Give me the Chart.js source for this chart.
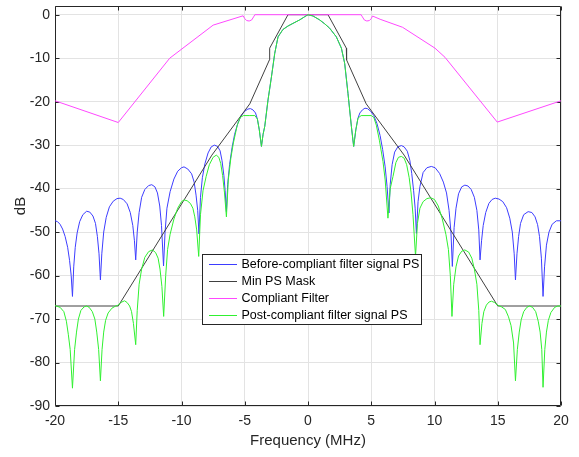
<!DOCTYPE html>
<html><head><meta charset="utf-8">
<script src="https://cdn.jsdelivr.net/npm/chart.js@4.4.1/dist/chart.umd.min.js"></script>
<style>html,body{margin:0;padding:0;background:#fff;}#wrap{width:579px;height:457px;position:relative;}</style>
</head><body><div id="wrap"><canvas id="c" width="579" height="457"></canvas></div>
<script>
const xTickValues = [-20,-15,-10,-5,0,5,10,15,20];
const yTickValues = [-90,-80,-70,-60,-50,-40,-30,-20,-10,0];
const seriesNames = ['Before-compliant filter signal PS','Min PS Mask','Compliant Filter','Post-compliant filter signal PS'];
const xTitle = 'Frequency (MHz)';
const yTitle = 'dB';

const blueFreq = [-20,-19.8,-19.6,-19.4,-19.2,-19.0,-18.85,-18.72,-18.62,-18.52,-18.4,-18.25,-18.05,-17.8,-17.5,-17.25,-17.0,-16.8,-16.65,-16.52,-16.41,
-16.3,-16.15,-15.95,-15.7,-15.4,-15.1,-14.85,-14.6,-14.3,-14.05,-13.85,-13.72,-13.62,
-13.5,-13.35,-13.15,-12.9,-12.6,-12.35,-12.1,-11.9,-11.72,-11.58,-11.42,
-11.3,-11.15,-10.9,-10.6,-10.3,-10.0,-9.8,-9.5,-9.2,-9.0,-8.85,-8.72,-8.62,
-8.5,-8.35,-8.15,-7.9,-7.65,-7.4,-7.15,-6.95,-6.8,-6.65,-6.55,-6.45,
-6.35,-6.2,-6.0,-5.8,-5.55,-5.3,-5.0,-4.75,-4.55,-4.35,-4.15,-4.0,
-3.85,-3.68,-3.55,-3.42,-3.16,-2.89,-2.63,-2.37,-1.98,-1.58,-1.19,-0.66,-0.26,0,0.4,0.92,1.32,1.71,2.24,2.64,2.9,3.16,3.43,3.61,3.78,
3.95,4.1,4.3,4.5,4.7,4.95,5.2,5.45,5.7,5.9,6.1,6.25,6.4,
6.5,6.65,6.85,7.1,7.38,7.6,7.85,8.05,8.2,8.35,8.47,8.57,
8.7,8.85,9.1,9.4,9.75,10.05,10.4,10.7,10.95,11.15,11.3,11.41,
11.55,11.7,11.9,12.15,12.4,12.65,12.9,13.15,13.35,13.5,13.6,
13.72,13.85,14.05,14.3,14.55,14.8,15.1,15.4,15.7,15.95,16.15,16.3,16.4,
16.52,16.65,16.8,17.05,17.4,17.7,17.95,18.15,18.3,18.45,18.58,
18.7,18.85,19.05,19.3,19.64,20];
const blueDb = [-47.4,-47.6,-48.2,-49.3,-51,-53.5,-56.5,-60,-64.8,-58,-53.5,-50.2,-47.6,-46,-45.2,-45.4,-46.3,-48,-51,-55,-61,
-55,-50,-46.6,-44.2,-42.9,-42.3,-42.2,-42.5,-43.5,-45.5,-48.5,-52,-56.4,
-50,-45.5,-42,-40.2,-39.3,-39.1,-39.6,-41,-44,-48.5,-57.8,
-50,-44.5,-40.7,-37.8,-36,-35.2,-35,-35.5,-36.6,-38.5,-41.5,-45,-50.4,
-42,-37.5,-34.3,-31.8,-30.4,-30,-30.3,-31.3,-33.5,-37,-40.5,-45.3,
-39,-34.5,-30.5,-27.5,-25,-23.3,-22.2,-21.7,-21.6,-21.9,-22.6,-24,
-26.5,-30.3,-27.5,-25.7,-19.6,-14.3,-8.9,-5.1,-3.4,-2.6,-2.0,-1.2,-0.46,0,-0.3,-1.2,-2.1,-3.1,-5.1,-7.7,-11.2,-18.1,-25.7,-30.3,-26.5,
-23.8,-22.6,-21.9,-21.5,-21.6,-22.2,-23.2,-25,-27.8,-31,-35,-39.5,-45.6,
-39,-34.5,-31.6,-30.4,-30.1,-30.4,-31.4,-33.5,-36.5,-40.5,-44.5,-50.3,
-43,-39.5,-36.3,-35.2,-34.9,-35.2,-36.5,-38.5,-41,-45,-50,-57.9,
-49,-44.5,-41.2,-39.6,-39.2,-39.4,-40.2,-42,-45,-49.5,-56.4,
-52,-48.5,-45.5,-43.4,-42.5,-42.2,-42.4,-43,-44.4,-46.8,-50,-55,-61,
-55,-51,-48,-46,-45.3,-45.5,-46.5,-48.3,-51,-56,-64.8,
-58,-53,-50,-48.2,-47.4,-47.4];

const maskFreq = [-20,-15,-7.6,-4.6,-3.05,-3.03,-1.58,1.58,3.03,3.05,4.6,7.6,15,20];
const maskDb   = [-67,-67,-32.3,-20.5,-10.4,-7.7,0,0,-7.7,-10.4,-20.5,-32.3,-67,-67];

const filterFreq = [-20,-15,-10.93,-7.5,-5.13,-5.0,-4.85,-4.65,-4.45,-4.3,-4.2,4.2,4.3,4.45,4.65,4.85,5.0,5.1,5.7,7.48,10.04,10.83,14.96,20];
const filterDb   = [-19.8,-24.8,-10,-2.4,-0.25,-0.9,-1.35,-1.45,-1.2,-0.5,0,0,-0.5,-1.2,-1.45,-1.35,-0.9,-0.3,-1.05,-2.9,-7.7,-9.8,-24.7,-19.8];

const greenFreq = [-20,-19.6,-19.3,-19.1,-18.95,-18.8,-18.62,-18.45,-18.3,-18.15,-17.95,-17.7,-17.5,-17.3,-17.05,-16.85,-16.7,-16.55,-16.41,
-16.28,-16.15,-16.0,-15.8,-15.5,-15.2,-15.0,-14.8,-14.5,-14.3,-14.1,-13.95,-13.8,-13.62,
-13.5,-13.35,-13.15,-12.9,-12.6,-12.3,-12.05,-11.85,-11.7,-11.55,-11.41,
-11.25,-11.1,-10.9,-10.6,-10.3,-10.0,-9.8,-9.55,-9.3,-9.1,-8.95,-8.8,-8.64,
-8.5,-8.3,-8.05,-7.8,-7.5,-7.25,-7.05,-6.9,-6.75,-6.6,-6.45,
-6.3,-6.1,-5.9,-5.6,-5.35,-5.1,-4.6,-4.2,-4.0,-3.85,-3.68,
-3.55,-3.42,-3.16,-2.89,-2.63,-2.37,-1.98,-1.58,-1.19,-0.66,-0.26,0,0.4,0.92,1.32,1.71,2.24,2.64,2.9,3.16,3.43,3.61,
3.78,3.95,4.2,5.0,5.2,5.4,5.65,5.93,6.1,6.32,
6.5,6.72,6.95,7.15,7.38,7.6,7.8,8.0,8.15,8.3,8.5,
8.65,8.85,9.1,9.4,9.7,10.0,10.3,10.6,10.9,11.1,11.25,11.38,
11.52,11.7,11.9,12.15,12.4,12.7,12.95,13.15,13.35,13.5,13.6,
13.75,13.9,14.1,14.3,14.5,14.75,15.0,15.3,15.6,15.85,16.05,16.25,16.4,
16.55,16.7,16.85,17.05,17.3,17.52,17.75,18.0,18.2,18.35,18.48,18.58,
18.72,18.85,19.0,19.2,19.5,19.75,20];
const greenDb = [-66.9,-67.3,-68.3,-70.5,-73.5,-77,-85.9,-77,-73,-70,-68,-67.2,-67,-67.3,-68.3,-70,-73,-77,-84.2,
-77,-73,-70.3,-68.6,-67.5,-67,-66.8,-66.2,-65.8,-66.2,-67,-68.3,-71,-75.9,
-68,-62,-58.5,-55.8,-54.5,-54.1,-54.7,-56,-58.5,-62.5,-69.4,
-60,-54,-50.5,-47,-44.5,-43,-42.6,-42.8,-43.4,-44.5,-46.5,-49.5,-55.6,
-46,-40.5,-37.2,-34.5,-32.8,-32.3,-32.8,-34.2,-37,-41,-46.5,
-38,-33,-29.5,-25.5,-23.6,-23.2,-23.2,-23.2,-24,-26.5,-30.3,
-27.5,-25.7,-19.6,-14.3,-8.9,-5.1,-3.4,-2.6,-2.0,-1.2,-0.46,0,-0.3,-1.2,-2.1,-3.1,-5.1,-7.7,-11.2,-18.1,-25.7,-30.3,
-26.5,-23.8,-23.2,-23.2,-23.6,-25.4,-29,-33.8,-38,-46.8,
-40,-37.2,-34,-32.8,-32.6,-33,-34.5,-37.5,-41,-46,-55.6,
-48,-44.5,-43,-42.3,-42.1,-42.5,-44,-46.8,-50.5,-54,-60,-69.4,
-62,-58,-55.5,-54.4,-54.1,-54.6,-56,-58.5,-62,-68,-75.9,
-71,-68.3,-66.8,-66.1,-65.9,-66.2,-66.8,-67.2,-67.8,-69.5,-71.5,-75.5,-84.2,
-77,-73,-70.2,-68.3,-67.3,-67,-67.3,-68.3,-70.5,-73,-77,-85.7,
-77,-73,-70.3,-68.5,-67.3,-67,-67];

const lineColors = ['#3d3dff','#404040','#ff48ff','#30f030'];
const FONT = '"Liberation Sans", Arial, Helvetica, sans-serif';
const AX = '#262626';

function pts(xs, ys){ return xs.map((x,i)=>({x:x,y:ys[i]})); }

const framePlugin = {
  id:'frame',
  beforeDatasetsDraw(chart){
    const {ctx, chartArea:a, scales} = chart;
    ctx.save();
    ctx.strokeStyle = AX; ctx.lineWidth = 1;
    ctx.beginPath();
    const L=Math.round(a.left)+0.5, R=Math.round(a.right)-0.5, T=Math.round(a.top)+0.5, B=Math.round(a.bottom)-0.5;
    ctx.rect(L,T,R-L,B-T);
    const tl = 4;
    xTickValues.forEach(v=>{
      const px = Math.round(scales.x.getPixelForValue(v))+0.5;
      ctx.moveTo(px,B); ctx.lineTo(px,B-tl);
      ctx.moveTo(px,T); ctx.lineTo(px,T+tl);
    });
    yTickValues.forEach(v=>{
      const py = Math.round(scales.y.getPixelForValue(v))+0.5;
      ctx.moveTo(L,py); ctx.lineTo(L+tl,py);
      ctx.moveTo(R,py); ctx.lineTo(R-tl,py);
    });
    ctx.stroke();
    ctx.restore();
  },
  afterDraw(chart){
    const {ctx} = chart;
    ctx.save();
    const bx = 202.5, by = 254.5, bw = 219, bh = 70;
    ctx.fillStyle = '#fff';
    ctx.fillRect(bx,by,bw,bh);
    ctx.strokeStyle = AX; ctx.lineWidth = 1;
    ctx.strokeRect(bx,by,bw,bh);
    ctx.font = '12.5px ' + FONT;
    ctx.textBaseline = 'middle';
    ctx.textAlign = 'left';
    const rows = [264.5,281.5,298.5,315.5];
    seriesNames.forEach((n,i)=>{
      ctx.strokeStyle = lineColors[i];
      ctx.beginPath(); ctx.moveTo(209,rows[i]); ctx.lineTo(237,rows[i]); ctx.stroke();
      ctx.fillStyle = '#000';
      ctx.fillText(n, 241.5, rows[i]);
    });
    ctx.restore();
  }
};

const ds = (label, xs, ys, color, order) => ({
  label, data: pts(xs,ys), borderColor: color, backgroundColor: color,
  borderWidth: 1, pointRadius: 0, tension: 0, fill: false, order
});

new Chart(document.getElementById('c'), {
  type: 'line',
  data: { datasets: [
    ds(seriesNames[0], blueFreq, blueDb, lineColors[0], 3),
    ds(seriesNames[1], maskFreq, maskDb, lineColors[1], 2),
    ds(seriesNames[2], filterFreq, filterDb, lineColors[2], 1),
    ds(seriesNames[3], greenFreq, greenDb, lineColors[3], 0)
  ]},
  options: {
    responsive: false, animation: false, devicePixelRatio: 1,
    layout: { padding: { top: 6, right: 18, left: 0, bottom: 0 } },
    plugins: { legend: { display: false }, tooltip: { enabled: false } },
    scales: {
      x: {
        type: 'linear', min: -20, max: 20,
        afterBuildTicks: s => { s.ticks = xTickValues.map(v=>({value:v})); },
        afterFit: s => { s.height = 51; s.paddingLeft = 0; s.paddingRight = 0; },
        grid: { color: '#e3e3e3', drawTicks: false, lineWidth: 1 },
        border: { display: false },
        ticks: { color: AX, font: { family: FONT, size: 14 }, padding: 7, maxRotation: 0, autoSkip: false },
        title: { display: true, text: xTitle, color: AX, font: { family: FONT, size: 15 }, padding: { top: 0, bottom: 7 } }
      },
      y: {
        type: 'linear', min: -90, max: 2,
        afterBuildTicks: s => { s.ticks = yTickValues.map(v=>({value:v})); },
        afterFit: s => { s.width = 55; s.paddingTop = 0; s.paddingBottom = 0; },
        grid: { color: '#e3e3e3', drawTicks: false, lineWidth: 1 },
        border: { display: false },
        ticks: { color: AX, font: { family: FONT, size: 14 }, padding: 5, autoSkip: false },
        title: { display: true, text: yTitle, color: AX, font: { family: FONT, size: 15 }, padding: { top: 12, bottom: 0 } }
      }
    }
  },
  plugins: [framePlugin]
});
</script>
</body></html>
